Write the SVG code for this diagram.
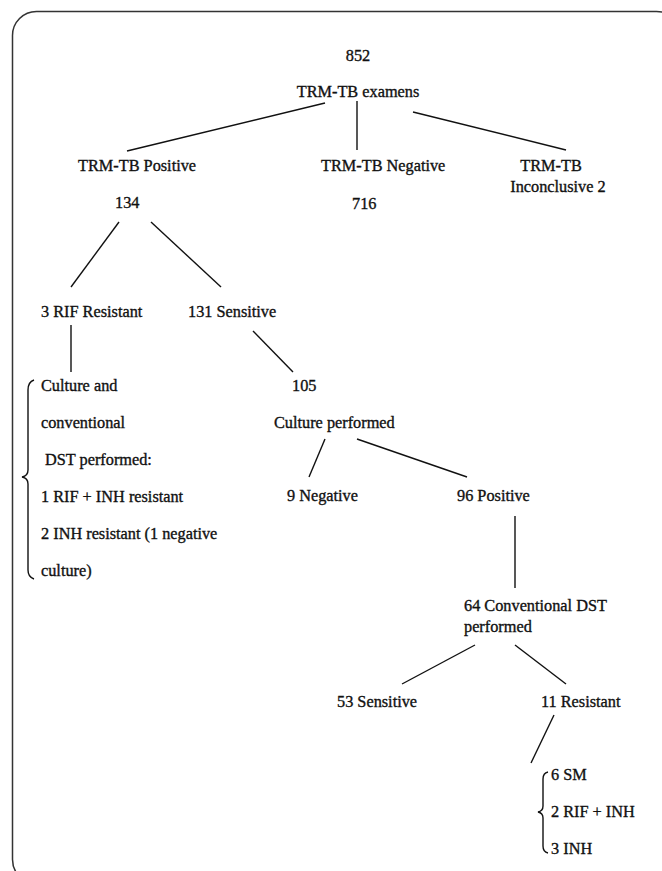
<svg xmlns="http://www.w3.org/2000/svg" width="662" height="871" viewBox="0 0 662 871">
<style>
text{font-family:"Liberation Serif","Times New Roman",Tinos,serif;font-size:16.3px;fill:#111;stroke:#111;stroke-width:0.35}
.c line,.c path{stroke:#111;stroke-width:1.4;fill:none}
.b{stroke:#333;stroke-width:1.5;fill:none}
</style>
<rect class="b" x="12.5" y="11.5" width="668" height="872" rx="24"/>
<g class="c" id="connectors">
<line x1="325" y1="103" x2="127" y2="151"/>
<line x1="357" y1="101" x2="357" y2="150"/>
<line x1="413" y1="112" x2="566" y2="150"/>
<line x1="119" y1="222" x2="71" y2="287"/>
<line x1="151" y1="222" x2="221" y2="287"/>
<line x1="71" y1="325" x2="71" y2="372"/>
<line x1="253" y1="331" x2="293" y2="372"/>
<line x1="325" y1="439" x2="309" y2="477"/>
<line x1="357" y1="439" x2="467" y2="477"/>
<line x1="515" y1="516" x2="515" y2="588"/>
<line x1="475" y1="645" x2="402" y2="684"/>
<line x1="515" y1="645" x2="566" y2="684"/>
<line x1="554" y1="715" x2="531" y2="763"/>
<path d="M34 380 Q28 382 28 390 L28 470 Q28 476 22 477 Q28 478 28 484 L28 570 Q28 577 34 579"/>
<path d="M548 772 Q543 773 543 779 L543 806 Q543 811 538 812 Q543 813 543 818 L543 846 Q543 852 548 853"/>
</g>
<g id="n852"><text x="358" y="61" text-anchor="middle">852</text></g>
<g id="exam"><text x="358" y="97" text-anchor="middle">TRM-TB examens</text></g>
<g id="pos"><text x="78" y="171">TRM-TB Positive</text><text x="115" y="208">134</text></g>
<g id="neg"><text x="321" y="171">TRM-TB Negative</text><text x="352" y="209">716</text></g>
<g id="inc"><text x="551" y="171" text-anchor="middle">TRM-TB</text><text x="558" y="192" text-anchor="middle">Inconclusive 2</text></g>
<g id="rif"><text x="41" y="317">3 RIF Resistant</text></g>
<g id="sens"><text x="188" y="317">131 Sensitive</text></g>
<g id="culdst">
<text x="41" y="391">Culture and</text>
<text x="41" y="428">conventional</text>
<text x="45" y="465">DST performed:</text>
<text x="41" y="502">1 RIF + INH resistant</text>
<text x="41" y="539">2 INH resistant (1 negative</text>
<text x="41" y="576">culture)</text>
</g>
<g id="n105"><text x="292" y="391">105</text><text x="274" y="428">Culture performed</text></g>
<g id="cneg"><text x="287" y="501">9 Negative</text></g>
<g id="cpos"><text x="457" y="501">96 Positive</text></g>
<g id="dst"><text x="464" y="611">64 Conventional DST</text><text x="464" y="632">performed</text></g>
<g id="s53"><text x="337" y="707">53 Sensitive</text></g>
<g id="r11"><text x="541" y="707">11 Resistant</text></g>
<g id="res">
<text x="551" y="780">6 SM</text>
<text x="551" y="817">2 RIF + INH</text>
<text x="551" y="854">3 INH</text>
</g>
</svg>
